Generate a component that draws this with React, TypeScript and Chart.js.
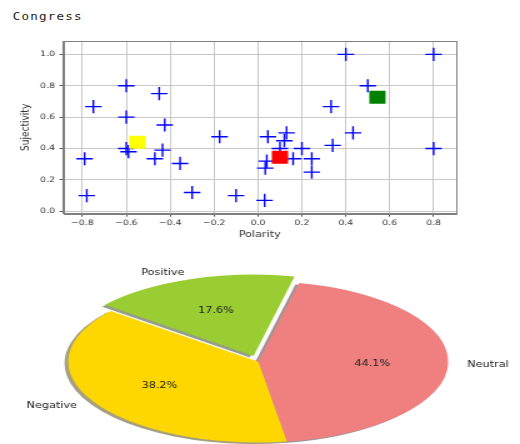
import React, { useEffect, useRef } from "react";
import { Chart, registerables } from "chart.js";

Chart.register(...registerables);

// ---------- data ----------
const polarity = [0.4, 0.8, -0.6, 0.5, -0.45, -0.75, 0.333, -0.6, -0.425, -0.175, 0.045, 0.13, 0.12, 0.433, 0.34, 0.8, -0.6, -0.59, -0.435, -0.47, -0.79, -0.355, 0.2, 0.1, 0.16, 0.245, 0.04, 0.033, 0.245, -0.78, -0.3, -0.1, 0.03];
const subjectivity = [1.0, 1.0, 0.8, 0.8, 0.75, 0.667, 0.667, 0.6, 0.55, 0.475, 0.475, 0.5, 0.45, 0.5, 0.42, 0.4, 0.4, 0.38, 0.39, 0.335, 0.335, 0.305, 0.4, 0.4, 0.335, 0.335, 0.32, 0.275, 0.25, 0.1, 0.12, 0.1, 0.07];

const meanPolarity = [-0.55, 0.1, 0.544];
const meanSubjectivity = [0.44, 0.344, 0.726];
const meanColors = ["#ffff00", "#ff0000", "#008000"];

const xTicks = [-0.8, -0.6, -0.4, -0.2, 0.0, 0.2, 0.4, 0.6, 0.8];
const yTicks = [0.0, 0.2, 0.4, 0.6, 0.8, 1.0];

const pieLabels = ["Positive", "Neutral", "Negative"];
const pieValues = [17.6, 44.1, 38.2];
const pieColors = ["#9acd32", "#f08080", "#ffd700"];
const pieExplode = [0.075, 0, 0];

const titleText = "Congress";

// ---------- layout constants ----------
const STRETCH = 1.25;
const W = 520 / STRETCH;
const PIE_R = 152;
const PIE_SY = 80.7 / 152;

const fmt = (v: number) => (v < 0 ? "\u2212" : "") + Math.abs(v).toFixed(1);

const framePlugin = {
  id: "frame",
  afterDraw(chart: any) {
    const { ctx, chartArea: a } = chart;
    ctx.save();
    ctx.strokeStyle = "#808080";
    ctx.lineWidth = 1;
    ctx.strokeRect(Math.round(a.left) + 0.5, Math.round(a.top) + 0.5, Math.round(a.right - a.left), Math.round(a.bottom - a.top));
    ctx.restore();
  },
};

function shadowColor(hex: string) {
  const r = parseInt(hex.slice(1, 3), 16) * 0.3;
  const g = parseInt(hex.slice(3, 5), 16) * 0.3;
  const b = parseInt(hex.slice(5, 7), 16) * 0.3;
  return `rgba(${r},${g},${b},0.5)`;
}

const squashPlugin = {
  id: "squash",
  beforeDatasetsDraw(chart: any) {
    const meta = chart.getDatasetMeta(0);
    const ctx = chart.ctx;
    const a0 = meta.data[0];
    const cx = a0.x, cy = a0.y;
    ctx.save();
    ctx.translate(cx, cy);
    ctx.scale(1, PIE_SY);
    ctx.translate(-cx, -cy);
    const sh = 0.02 * PIE_R;
    meta.data.forEach((arc: any, i: number) => {
      const off = (arc.options.offset || 0) / 4;
      const mid = (arc.startAngle + arc.endAngle) / 2;
      const x = arc.x + Math.cos(mid) * off - sh;
      const y = arc.y + Math.sin(mid) * off + sh;
      ctx.beginPath();
      ctx.moveTo(x, y);
      ctx.arc(x, y, arc.outerRadius, arc.startAngle, arc.endAngle);
      ctx.closePath();
      ctx.fillStyle = shadowColor(pieColors[i]);
      ctx.fill();
    });
  },
  afterDatasetsDraw(chart: any) {
    chart.ctx.restore();
  },
};

const pieTextPlugin = {
  id: "pieText",
  afterDraw(chart: any) {
    const meta = chart.getDatasetMeta(0);
    const ctx = chart.ctx;
    const total = pieValues.reduce((s, v) => s + v, 0);
    ctx.save();
    ctx.font = "9px 'DejaVu Sans'";
    ctx.fillStyle = "#222";
    ctx.textBaseline = "middle";
    meta.data.forEach((arc: any, i: number) => {
      const mid = (arc.startAngle + arc.endAngle) / 2;
      const off = (arc.options.offset || 0) / 4;
      const c = Math.cos(mid), s = Math.sin(mid);
      const R = arc.outerRadius;
      const lx = arc.x + c * (off + 1.1 * R);
      const ly = arc.y + s * (off + 1.1 * R) * PIE_SY;
      ctx.textAlign = c >= 0 ? "left" : "right";
      ctx.fillText(pieLabels[i], lx, ly);
      const px = arc.x + c * (off + 0.6 * R);
      const py = arc.y + s * (off + 0.6 * R) * PIE_SY;
      ctx.textAlign = "center";
      ctx.fillText(((pieValues[i] / total) * 100).toFixed(1) + "%", px, py);
    });
    ctx.restore();
  },
};

export default function App() {
  const scatterRef = useRef<HTMLCanvasElement>(null);
  const pieRef = useRef<HTMLCanvasElement>(null);

  useEffect(() => {
    const tickFont = { family: "'DejaVu Sans'", size: 7.5 };
    const labelFont = { family: "'DejaVu Sans'", size: 9 };
    const scatter = new Chart(scatterRef.current!, {
      type: "scatter",
      data: {
        datasets: [
          {
            data: meanPolarity.map((x, i) => ({ x, y: meanSubjectivity[i] })),
            pointStyle: "rect",
            pointRadius: 9.2,
            backgroundColor: meanColors,
            borderColor: meanColors,
            borderWidth: 0,
            order: 0,
          },
          {
            data: polarity.map((x, i) => ({ x, y: subjectivity[i] })),
            pointStyle: "cross",
            pointRadius: 6.6,
            borderColor: "#0000ff",
            backgroundColor: "#0000ff",
            borderWidth: 1.4,
            order: 1,
          },
        ],
      },
      options: {
        responsive: false,
        animation: false,
        layout: { padding: { left: 0, top: 41, right: W - 456 / STRETCH, bottom: 0 } },
        plugins: { legend: { display: false }, tooltip: { enabled: false } },
        scales: {
          x: {
            type: "linear",
            min: -0.887,
            max: 0.902,
            afterBuildTicks: (s: any) => { s.ticks = xTicks.map((v) => ({ value: v })); },
            ticks: { callback: (v: any) => fmt(Number(v)), font: tickFont, color: "#333", padding: 1.5, maxRotation: 0, autoSkip: false },
            grid: { color: "#c8c8c8", lineWidth: 1, tickLength: 3, tickColor: "#555" },
            border: { display: true, color: "#808080" },
            title: { display: true, text: "Polarity", font: labelFont, color: "#333", padding: { top: 0, bottom: 10.1 } },
            afterFit: (s: any) => { s.height = 250 - 213.7; },
          },
          y: {
            type: "linear",
            min: -0.015,
            max: 1.085,
            afterBuildTicks: (s: any) => { s.ticks = yTicks.map((v) => ({ value: v })); },
            ticks: { callback: (v: any) => fmt(Number(v)), font: tickFont, color: "#333", padding: 3.6, autoSkip: false },
            grid: { color: "#c8c8c8", lineWidth: 1, tickLength: 3, tickColor: "#555" },
            border: { display: true, color: "#808080" },
            title: { display: true, text: "Sujectivity", font: labelFont, color: "#333", padding: { top: 15.4, bottom: 0 } },
            afterFit: (s: any) => { s.width = 63.3 / STRETCH; },
          },
        },
      },
      plugins: [framePlugin],
    } as any);

    const pie = new Chart(pieRef.current!, {
      type: "pie",
      data: {
        labels: pieLabels,
        datasets: [
          {
            data: pieValues,
            backgroundColor: pieColors,
            borderWidth: 0,
            offset: pieExplode.map((e) => e * PIE_R * 4),
            radius: PIE_R,
            rotation: -51,
            clip: false,
          },
        ],
      },
      options: {
        responsive: false,
        animation: false,
        rotation: -51,
        layout: { padding: { left: 0, right: W - 2 * (258.3 / STRETCH), top: 2 * 121.7 - 204, bottom: 0 } },
        plugins: { legend: { display: false }, tooltip: { enabled: false } },
      },
      plugins: [squashPlugin, pieTextPlugin],
    } as any);

    return () => {
      scatter.destroy();
      pie.destroy();
    };
  }, []);

  return (
    <div
      style={{
        position: "absolute",
        left: 0,
        top: 0,
        width: W,
        height: 444,
        transform: `scaleX(${STRETCH})`,
        transformOrigin: "0 0",
        background: "#fff",
        overflow: "hidden",
      }}
    >
      <div
        style={{
          position: "absolute",
          left: 12.7 / STRETCH,
          top: 11,
          fontFamily: "'DejaVu Sans Mono', monospace",
          fontSize: 10,
          lineHeight: "12px",
          letterSpacing: "1px",
          color: "#222",
          whiteSpace: "nowrap",
        }}
      >
        {titleText}
      </div>
      <canvas ref={scatterRef} width={W} height={250} style={{ position: "absolute", left: 0, top: 0 }} />
      <canvas ref={pieRef} width={W} height={204} style={{ position: "absolute", left: 0, top: 240 }} />
    </div>
  );
}
